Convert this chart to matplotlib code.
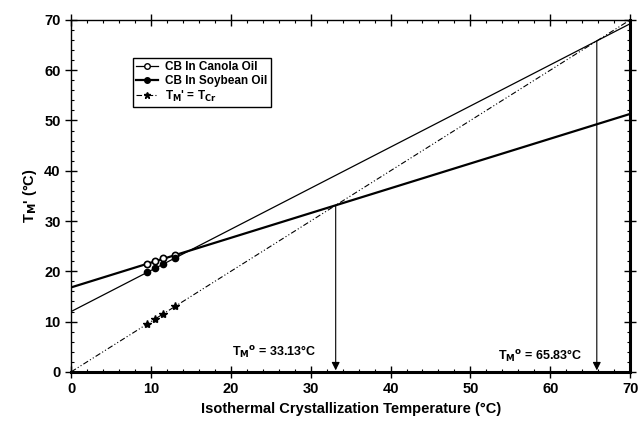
import numpy as np
import matplotlib
matplotlib.use("Agg")
from matplotlib import pyplot as plt
from matplotlib.ticker import MultipleLocator

plt.rcParams['font.family'] = ['Liberation Sans', 'DejaVu Sans']
plt.rcParams['font.weight'] = 'bold'
plt.rcParams['mathtext.default'] = 'bf'

# crystallization temperatures (Tc) and observed melting points
tc = [9.5, 10.5, 11.5, 13.0]
tm_canola = [21.5, 22.0, 22.6, 23.2]
tm_soy = [19.9, 20.7, 21.4, 22.6]

# Hoffman-Weeks extrapolation: intercepts and equilibrium melting points
tm0_canola = 33.13
icpt_canola = 16.8
tm0_soy = 65.83
icpt_soy = 12.0

x_line = np.array([0, 70])

fig = plt.figure(figsize=(6.41, 4.24), dpi=100)
ax = fig.add_axes([0.111, 0.123, 0.872, 0.830])

# fitted lines
slope_c = 1 - icpt_canola / tm0_canola
slope_s = 1 - icpt_soy / tm0_soy
ax.plot(x_line, icpt_canola + slope_c * x_line, color='black', lw=1.6)
ax.plot(x_line, icpt_soy + slope_s * x_line, color='black', lw=0.9)
ax.plot(x_line, x_line, color='black', lw=0.8, dashes=(5, 2, 1, 2, 1, 2))

# data
ax.plot(tc, tm_canola, 'o', mfc='white', mec='black', ms=4.5, mew=1.2)
ax.plot(tc, tm_soy, 'o', mfc='black', mec='black', ms=4.5)
ax.plot(tc, tc, '*', color='black', ms=6)

# legend handles
h1, = ax.plot([], [], color='black', lw=0.9, marker='o', mfc='white', mec='black', ms=4)
h2, = ax.plot([], [], color='black', lw=1.6, marker='o', mfc='black', ms=4)
h3, = ax.plot([], [], color='black', lw=0.8, dashes=(5, 2, 1, 2), marker='*', ms=5)
leg = ax.legend([h1, h2, h3], ['CB In Canola Oil', 'CB In Soybean Oil', "T$_M$' = T$_{Cr}$"],
                loc='upper left', bbox_to_anchor=(0.1, 0.91), fancybox=False,
                edgecolor='black', framealpha=1, fontsize=8.5, handlelength=1.8,
                borderpad=0.3, labelspacing=0.15, handletextpad=0.6)
leg.get_frame().set_linewidth(1.0)

# arrows to equilibrium melting points
for t0 in [tm0_canola, tm0_soy]:
    ax.annotate('', xy=(t0, 0.3), xytext=(t0, t0),
                arrowprops=dict(arrowstyle='-|>', color='black', lw=0.8,
                                mutation_scale=12, shrinkA=0, shrinkB=0))
ax.text(30.7, 2.4, 'T$_M$$^o$ = %.2f°C' % tm0_canola, ha='right', va='bottom', fontsize=9)
ax.text(64.0, 1.6, 'T$_M$$^o$ = %.2f°C' % tm0_soy, ha='right', va='bottom', fontsize=9)

ax.set_xlim(0, 70)
ax.set_ylim(0, 70)
ax.xaxis.set_major_locator(MultipleLocator(10))
ax.yaxis.set_major_locator(MultipleLocator(10))
ax.xaxis.set_minor_locator(MultipleLocator(2))
ax.yaxis.set_minor_locator(MultipleLocator(2))
ax.tick_params(which='major', direction='inout', length=8, width=1.0,
               top=True, right=True, labelsize=10.5)
ax.tick_params(which='minor', direction='in', length=2, width=0.8, top=True, right=True)

for side in ['left', 'top']:
    ax.spines[side].set_linewidth(1.0)
for side in ['bottom', 'right']:
    ax.spines[side].set_linewidth(2.2)

ax.set_xlabel('Isothermal Crystallization Temperature (°C)', fontsize=10.5, fontweight='bold')
ax.set_ylabel("T$_M$' (°C)", fontsize=10.5, fontweight='bold')

fig.savefig('out.png', dpi=100)
